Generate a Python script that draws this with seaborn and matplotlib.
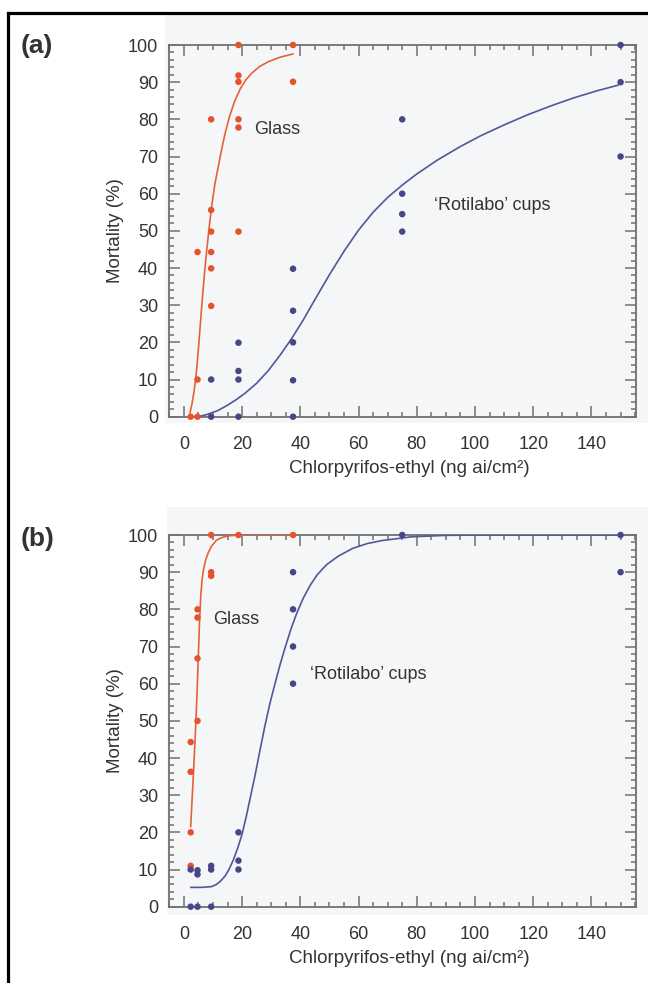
import numpy as np
import pandas as pd
import matplotlib
matplotlib.use("Agg")
import matplotlib.pyplot as plt
from matplotlib.lines import Line2D
from matplotlib.patches import Rectangle
from matplotlib.ticker import MultipleLocator
import seaborn as sns

# ---------------- data ----------------
# Panel (a)
glass_a_x = [2.34, 4.69, 4.69, 4.69, 9.375, 9.375, 9.375, 9.375, 9.375, 9.375,
             18.75, 18.75, 18.75, 18.75, 18.75, 18.75, 37.5, 37.5]
glass_a_y = [0, 0, 10, 44.3, 80, 55.6, 49.8, 44.3, 39.9, 29.8,
             100, 91.8, 90.1, 80, 77.8, 49.8, 100, 90.1]
roti_a_x = [9.375, 9.375, 18.75, 18.75, 18.75, 18.75, 37.5, 37.5, 37.5, 37.5, 37.5,
            75, 75, 75, 75, 150, 150, 150]
roti_a_y = [0, 10, 0, 10, 12.3, 19.9, 0, 9.8, 20, 28.5, 39.8,
            49.8, 54.5, 60, 80, 70, 90, 100]
glass_a_fit_x = [2.1, 2.8, 3.5, 4.0, 4.4, 4.8, 5.2, 5.6, 6.1, 7.0, 7.8, 8.6, 9.5, 10.6,
                 11.8, 13.0, 14.1, 15.7, 17.5, 19.5, 21.5, 23.3, 26.0, 29.0, 33.0, 37.5]
glass_a_fit_y = [1.0, 3.5, 6.8, 9.8, 12.8, 16.4, 20.3, 24.3, 29.3, 37.8, 44.3, 50.3, 56.3, 62.3,
                 67.2, 72.0, 76.0, 80.8, 85.0, 88.4, 90.8, 92.4, 94.2, 95.5, 96.7, 97.6]
roti_a_fit_x = [5, 8, 11.8, 15, 18, 21, 25, 29, 33, 37, 41, 45, 50, 55, 60, 65, 70, 75, 80,
                87, 95, 102, 110, 118, 126, 134, 142, 149.2]
roti_a_fit_y = [0, 0.6, 1.7, 3.1, 4.6, 6.3, 9.0, 12.4, 16.5, 21.0, 26.0, 31.5, 38.2, 44.5,
                50.2, 55.0, 59.0, 62.3, 65.3, 69.0, 72.7, 75.6, 78.5, 81.2, 83.6, 85.8,
                87.7, 89.2]

# Panel (b)
glass_b_x = [2.34, 2.34, 2.34, 2.34, 4.69, 4.69, 4.69, 4.69, 9.375, 9.375, 9.375, 18.75, 37.5]
glass_b_y = [11, 20, 36.3, 44.3, 50, 66.8, 77.8, 80, 89, 90, 100, 100, 100]
roti_b_x = [2.34, 2.34, 4.69, 4.69, 4.69, 9.375, 9.375, 9.375, 18.75, 18.75, 18.75,
            37.5, 37.5, 37.5, 37.5, 75, 150, 150]
roti_b_y = [0, 10, 0, 8.7, 9.8, 0, 10, 11, 10, 12.4, 20,
            60, 70, 80, 90, 100, 90, 100]
glass_b_fit_x = [2.34, 2.8, 3.3, 3.8, 4.2, 4.6, 5.0, 5.4, 5.8, 6.2, 6.7, 7.5, 8.4, 9.5,
                 11.2, 13.0, 15.3, 20.0, 37.5]
glass_b_fit_y = [21.5, 28.5, 36.0, 44.0, 51.0, 59.0, 68.0, 77.0, 83.5, 87.5, 90.5, 93.3,
                 95.3, 97.0, 98.6, 99.3, 99.8, 100, 100]
roti_b_fit_x = [2.34, 6, 9.5, 11, 12.5, 14.1, 15.5, 17, 18.5, 20, 21.5, 23, 24.5, 26, 27.8,
                29.5, 31.3, 33, 34.7, 36.7, 38.7, 41, 43.5, 45.8, 49, 53, 58, 63, 68, 78,
                90, 101, 150]
roti_b_fit_y = [5.2, 5.2, 5.4, 5.9, 6.8, 8.2, 10.0, 12.6, 15.8, 19.5, 24.5, 30.0, 35.5, 41.5,
                48.5, 54.5, 60.0, 65.0, 69.5, 74.5, 78.8, 83.0, 86.6, 89.3, 92.0, 94.3,
                96.4, 97.7, 98.5, 99.5, 99.9, 100, 100]

x_ticks = [0, 20, 40, 60, 80, 100, 120, 140]
y_ticks = [0, 10, 20, 30, 40, 50, 60, 70, 80, 90, 100]
panel_labels = ["(a)", "(b)"]
x_label = "Chlorpyrifos-ethyl (ng ai/cm\u00b2)"
y_label = "Mortality (%)"
glass_text = "Glass"
roti_text = "\u2018Rotilabo\u2019 cups"

# ---------------- style ----------------
sns.set_theme(style="ticks")
plt.rcParams["font.family"] = ["Liberation Sans", "DejaVu Sans"]
RED = "#e5532b"
BLUE = "#474787"
RED_LINE = "#e8603a"
BLUE_LINE = "#55559a"
TXT = "#333333"
SPINE = "#707070"
BG = "#f4f6f8"

W, H = 648, 983
fig = plt.figure(figsize=(W / 100, H / 100), dpi=100)
fig.patch.set_facecolor("white")

def fx(px):
    return px / W

def fy(py):
    return 1 - py / H

# panel background rectangles
fig.add_artist(Rectangle((fx(165), fy(423)), 1 - fx(165), (423 - 15) / H,
                         transform=fig.transFigure, facecolor=BG, edgecolor="none", zorder=0))
fig.add_artist(Rectangle((fx(167), fy(915)), 1 - fx(167), (915 - 507) / H,
                         transform=fig.transFigure, facecolor=BG, edgecolor="none", zorder=0))

# figure border (left + top)
fig.add_artist(Line2D([fx(8), fx(8)], [0, fy(13)], transform=fig.transFigure,
                      color="black", lw=2.3, solid_capstyle="projecting"))
fig.add_artist(Line2D([fx(8), 1], [fy(13), fy(13)], transform=fig.transFigure,
                      color="black", lw=2.3, solid_capstyle="projecting"))

left, right = 169.3, 636
ax_a = fig.add_axes([fx(left), fy(416.7), (right - left) / W, (416.7 - 45) / H])
ax_b = fig.add_axes([fx(left), fy(906.7), (right - left) / W, (906.7 - 535) / H])

def draw(ax, gx, gy, rx, ry, gfx, gfy, rfx, rfy):
    ax.set_facecolor(BG)
    sns.lineplot(x=gfx, y=gfy, ax=ax, color=RED_LINE, lw=1.2, sort=False,
                 estimator=None, zorder=3)
    sns.lineplot(x=rfx, y=rfy, ax=ax, color=BLUE_LINE, lw=1.2, sort=False,
                 estimator=None, zorder=3)
    sns.scatterplot(x=gx, y=gy, ax=ax, color=RED, s=22, marker="o",
                    edgecolor="none", zorder=4, clip_on=False)
    sns.scatterplot(x=rx, y=ry, ax=ax, color=BLUE, s=22, marker="o",
                    edgecolor="none", zorder=4, clip_on=False)
    ax.set_xlim(-5, 155.3)
    ax.set_ylim(0, 100)
    ax.set_xticks(x_ticks)
    ax.set_yticks(y_ticks)
    ax.xaxis.set_minor_locator(MultipleLocator(5))
    ax.yaxis.set_minor_locator(MultipleLocator(2))
    ax.tick_params(which="both", direction="in", top=True, right=True,
                   color=SPINE, width=1.1, labelcolor=TXT, labelsize=13)
    ax.tick_params(which="major", length=8)
    ax.tick_params(which="minor", length=3.5)
    ax.tick_params(axis="x", which="major", pad=14)
    ax.tick_params(axis="y", which="major", pad=8)
    for sp in ax.spines.values():
        sp.set_color(SPINE)
        sp.set_linewidth(1.3)
        sp.set_visible(True)
    ax.set_xlabel(x_label, fontsize=13.5, color=TXT, labelpad=5)
    ax.set_ylabel(y_label, fontsize=13.5, color=TXT, labelpad=3)
    ax.xaxis.label.set_x(0.515)

draw(ax_a, glass_a_x, glass_a_y, roti_a_x, roti_a_y,
     glass_a_fit_x, glass_a_fit_y, roti_a_fit_x, roti_a_fit_y)
draw(ax_b, glass_b_x, glass_b_y, roti_b_x, roti_b_y,
     glass_b_fit_x, glass_b_fit_y, roti_b_fit_x, roti_b_fit_y)

ax_a.text(24.0, 77.2, glass_text, fontsize=13, color=TXT, ha="left", va="center")
ax_a.text(86.0, 56.9, roti_text, fontsize=13, color=TXT, ha="left", va="center")
ax_b.text(10.1, 77.4, glass_text, fontsize=13, color=TXT, ha="left", va="center")
ax_b.text(43.3, 62.6, roti_text, fontsize=13, color=TXT, ha="left", va="center")

fig.text(fx(21), fy(46), panel_labels[0], fontsize=19, fontweight="bold", color=TXT,
         ha="left", va="center")
fig.text(fx(21), fy(539), panel_labels[1], fontsize=19, fontweight="bold", color=TXT,
         ha="left", va="center")

fig.savefig("out.png", dpi=100)
